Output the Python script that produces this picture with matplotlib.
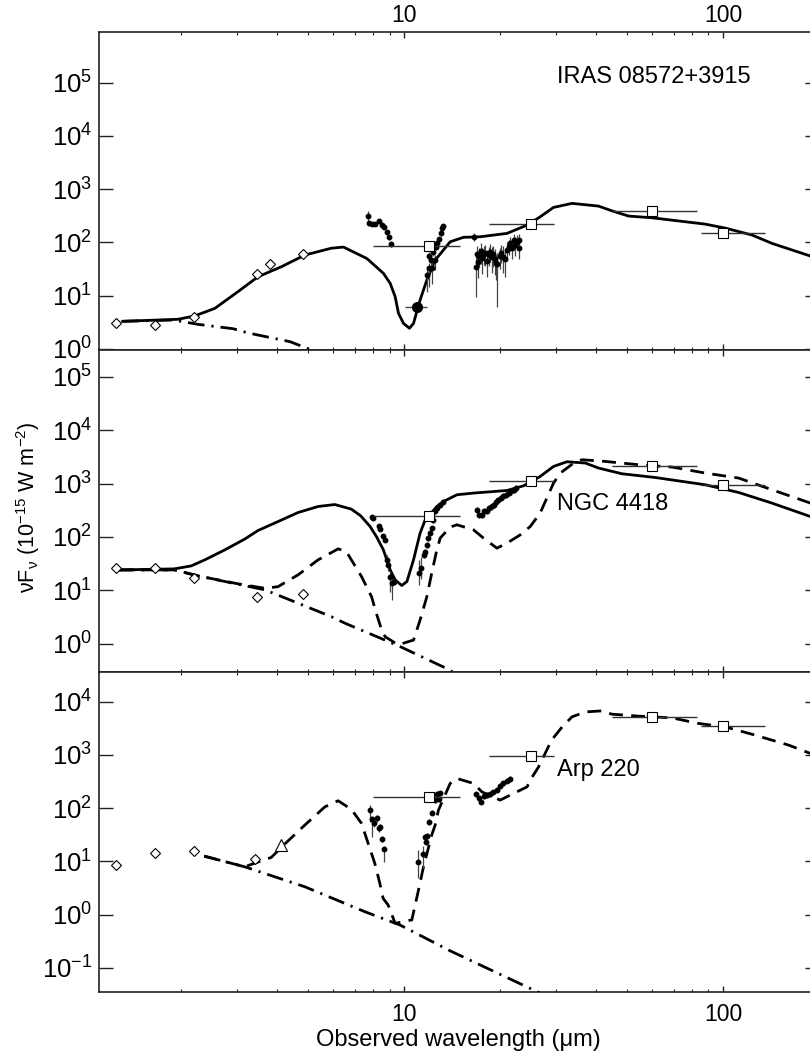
import matplotlib
matplotlib.use("Agg")
import matplotlib.pyplot as plt
import numpy as np
from matplotlib.ticker import LogLocator, NullFormatter

plt.rcParams["font.family"] = ["Liberation Sans", "DejaVu Sans"]
plt.rcParams["mathtext.fontset"] = "custom"
plt.rcParams["mathtext.rm"] = "Liberation Sans"
plt.rcParams["mathtext.it"] = "Liberation Sans:italic"
plt.rcParams["mathtext.default"] = "regular"

# ---------------- photometry ----------------
iras_wave = [12, 25, 60, 100]
iras_lo = [8.0, 18.5, 45, 85]
iras_hi = [15.0, 29.5, 83, 135]
iras_top = [85.6, 221, 383, 152]
iras_mid = [249, 1095, 2094, 949]
iras_bot = [164, 949, 5190, 3467]

nir_wave_top = [1.25, 1.65, 2.2, 3.45, 3.8, 4.8]
nir_flux_top = [3.1, 2.86, 4.0, 25.9, 39, 62]
nir_wave_mid = [1.25, 1.65, 2.2, 3.45, 4.8]
nir_flux_mid = [26.7, 26, 16.9, 7.6, 8.6]
nir_wave_bot = [1.25, 1.65, 2.2, 3.4]
nir_flux_bot = [8.56, 14.2, 15.7, 10.9]
tri_wave_bot = [4.1]
tri_flux_bot = [20.3]

# ---------------- spectra (errors in dex) ----------------
spec_top_wave = [7.69, 7.78, 7.92, 8.11, 8.36, 8.51, 8.65, 8.82, 8.99, 9.10,
                 11.83, 11.95, 12.0, 12.13, 12.2, 12.3, 12.51, 12.6, 12.72, 12.9, 13.04, 13.16, 13.26,
                 16.6,
                 16.79, 16.9, 17.03, 17.23, 17.41, 17.57, 17.74, 17.96, 18.18, 18.39,
                 18.61, 18.84, 19.06, 19.3, 19.44, 19.62, 19.91, 20.16, 20.49, 20.75,
                 21.0, 21.25, 21.51, 21.78, 22.03, 22.3, 22.57, 22.84, 23.0]
spec_top_flux = [313, 228, 221, 219, 255, 212, 197, 159, 125, 93,
                 24.5, 55.6, 32.7, 46.7, 32.7, 66.9, 46.7, 83, 96, 114, 148, 184, 203,
                 128,
                 34.1, 60.6, 43.4, 55.6, 69.9, 50.3, 60.6, 64.1, 45.4, 58,
                 66.9, 52.5, 60.6, 48.2, 40.5, 39.3, 55.6, 64.1, 53.9, 48.2,
                 72, 83, 96, 77.5, 111, 89.4, 103, 77.5, 111]
spec_top_elo = [0.1, 0.05, 0.04, 0.04, 0.04, 0.04, 0.04, 0.04, 0.05, 0.05,
                0.31, 0.1, 0.35, 0.1, 0.3, 0.08, 0.19, 0.06, 0.05, 0.05, 0.04, 0.04, 0.04,
                0.08,
                0.55, 0.25, 0.3, 0.2, 0.25, 0.3, 0.2, 0.25, 0.3, 0.2,
                0.2, 0.3, 0.25, 0.3, 0.31, 0.8, 0.25, 0.2, 0.3, 0.33,
                0.2, 0.15, 0.15, 0.2, 0.15, 0.2, 0.15, 0.2, 0.15]
spec_top_ehi = [0.1, 0.05, 0.04, 0.04, 0.04, 0.04, 0.04, 0.04, 0.05, 0.05,
                0.16, 0.08, 0.1, 0.08, 0.1, 0.06, 0.1, 0.05, 0.04, 0.04, 0.04, 0.04, 0.04,
                0.08,
                0.29, 0.15, 0.2, 0.15, 0.15, 0.2, 0.15, 0.15, 0.2, 0.15,
                0.15, 0.2, 0.15, 0.2, 0.15, 0.2, 0.15, 0.15, 0.2, 0.15,
                0.15, 0.12, 0.12, 0.15, 0.12, 0.15, 0.12, 0.15, 0.12]

spec_mid_wave = [7.9, 8.01, 8.31, 8.41, 8.61, 8.72, 8.83, 8.93, 9.04, 9.15, 9.3,
                 11.17, 11.28, 11.5, 11.64, 11.78, 11.92, 12.07, 12.2, 12.36, 12.51, 12.66, 12.97, 13.28,
                 16.98, 17.23, 17.53, 17.82, 18.18, 18.52, 18.84, 19.16, 19.44, 19.76,
                 20.11, 20.49, 20.89, 21.25, 21.62, 22.03, 22.45]
spec_mid_flux = [235, 225, 157, 140, 102, 88, 37.2, 30, 18.1, 13.6, 14.6,
                 20.9, 26, 46.1, 53.2, 71, 95, 118, 146, 209, 300, 347, 400, 461,
                 322, 260, 260, 300, 313, 347, 372, 400, 461, 497,
                 534, 573, 617, 664, 711, 765, 824]
spec_mid_elo = [0.04, 0.04, 0.04, 0.04, 0.04, 0.04, 0.1, 0.12, 0.28, 0.31, 0.05,
                0.22, 0.2, 0.06, 0.05, 0.05, 0.05, 0.05, 0.05, 0.05, 0.05, 0.05, 0.05, 0.05,
                0.06, 0.06, 0.06, 0.06, 0.06, 0.06, 0.06, 0.06, 0.06, 0.06,
                0.06, 0.06, 0.06, 0.06, 0.06, 0.06, 0.06]
spec_mid_ehi = [0.04, 0.04, 0.04, 0.04, 0.04, 0.04, 0.1, 0.12, 0.1, 0.1, 0.05,
                0.25, 0.2, 0.06, 0.05, 0.05, 0.05, 0.05, 0.05, 0.05, 0.05, 0.05, 0.05, 0.05,
                0.06, 0.06, 0.06, 0.06, 0.06, 0.06, 0.06, 0.06, 0.06, 0.06,
                0.06, 0.06, 0.06, 0.06, 0.06, 0.06, 0.06]

spec_bot_wave = [7.82, 7.92, 8.05, 8.21, 8.33, 8.41, 8.55, 8.67,
                 11.09, 11.45, 11.64, 11.7, 11.78, 12.0, 12.24, 12.51, 12.72, 12.85, 12.97,
                 16.83, 17.13, 17.44, 17.74, 18.18, 18.61, 19.06, 19.54, 20.0, 20.49, 21.0, 21.5]
spec_bot_flux = [92, 61.6, 51.9, 64.4, 41.8, 44.8, 26.3, 16.9,
                 9.87, 13.6, 29, 23.4, 30, 55.6, 82, 142, 184, 146, 190,
                 182, 153, 132, 169, 176, 182, 198, 219, 260, 292, 327, 352]
spec_bot_elo = [0.22, 0.33, 0.06, 0.06, 0.06, 0.06, 0.06, 0.23,
                0.3, 0.25, 0.06, 0.06, 0.06, 0.06, 0.05, 0.05, 0.05, 0.05, 0.05,
                0.05, 0.05, 0.05, 0.05, 0.05, 0.05, 0.05, 0.05, 0.05, 0.05, 0.05, 0.05]
spec_bot_ehi = [0.09, 0.06, 0.06, 0.06, 0.06, 0.06, 0.06, 0.06,
                0.22, 0.15, 0.06, 0.06, 0.06, 0.06, 0.05, 0.05, 0.05, 0.05, 0.05,
                0.05, 0.05, 0.05, 0.05, 0.05, 0.05, 0.05, 0.05, 0.05, 0.05, 0.05, 0.05]

# silicate point with wavelength range (top panel)
sil_wave = [10.96]
sil_flux = [6.2]
sil_xlo = [10.07]
sil_xhi = [11.83]

# ---------------- models ----------------
solid_top_wave = [1.31, 1.95, 2.2, 2.55, 3.01, 3.48, 4.12, 4.88, 5.91, 6.45,
                  7.64, 8.61, 9.04, 9.37, 9.6, 9.95, 10.39, 10.7, 11.22, 11.78,
                  12.51, 13.94, 15.35, 17.32, 21.0, 24.3, 26.7, 29.4, 33.6, 40.7,
                  44.8, 50.6, 59.8, 88, 101.7, 123.3, 142.5, 188, 200]
solid_top_flux = [3.31, 3.61, 4.16, 5.8, 11.9, 22.7, 35, 58, 78, 82,
                  50, 26.3, 17.1, 9.6, 4.67, 3.03, 2.45, 3.03, 8.3, 19.7,
                  46.7, 103, 125, 128, 148, 212, 303, 455, 542, 482,
                  393, 313, 291, 221, 186, 138, 96, 55.6, 50]
dashdot_top_wave = [1.31, 1.89, 2.26, 2.91, 3.24, 4.39, 5.86]
dashdot_top_flux = [3.31, 3.5, 2.9, 2.4, 2.0, 1.37, 0.7]

solid_mid_wave = [1.27, 1.9, 2.15, 2.37, 2.74, 3.16, 3.48, 4.02, 4.65, 5.37,
                  6.06, 6.83, 7.3, 7.82, 8.2, 8.61, 9.04, 9.37, 9.83, 10.2,
                  10.7, 11.22, 11.64, 12.66, 13.28, 14.63, 16.5, 21.0, 23.7, 26.7,
                  29.4, 32.4, 37.0, 40.7, 48.2, 61.3, 88, 112, 142.5, 188, 200]
solid_mid_flux = [24.1, 25.2, 28.7, 37.2, 57.3, 91, 132, 194, 287, 372,
                  405, 332, 250, 157, 100, 57, 24.1, 15.7, 12.3, 14.6,
                  37.2, 118, 209, 372, 461, 617, 664, 742, 910, 1359,
                  2094, 2565, 2425, 1954, 1527, 1300, 949, 681, 430, 241, 215]
dashed_mid_wave = [1.27, 1.9, 2.26, 3.0, 3.66, 4.02, 4.65, 5.37, 6.21, 6.59,
                   6.83, 7.35, 7.9, 8.21, 8.5, 8.72, 9.57, 10.7, 11.22, 11.78,
                   12.2, 12.66, 12.97, 13.94, 14.63, 16.5, 17.74, 19.54, 21.0, 23.1,
                   24.86, 26.7, 29.4, 30.9, 34.0, 36.1, 42.7, 54.4, 69.2, 88,
                   112, 142.5, 188, 200]
dashed_mid_flux = [24.1, 24.1, 18.6, 13.3, 10.9, 11.7, 19.5, 37.2, 59.8, 53.2,
                   37.2, 18.1, 7.62, 3.45, 1.81, 1.35, 0.95, 1.17, 2.78, 7.62,
                   20.9, 57.3, 95, 153, 169, 136, 95, 61.6, 76.5, 109,
                   157, 280, 1021, 1574, 2425, 2800, 2600, 2254, 2040, 1574,
                   1268, 765, 431, 380]
dashdot_mid_wave = [1.27, 1.91, 2.26, 3.66, 5.91, 6.53, 9.57, 13.77, 17.3]
dashdot_mid_flux = [24.1, 24.1, 18.6, 10.2, 3.21, 2.41, 0.92, 0.33, 0.135]

dashed_bot_wave = [2.36, 3.16, 3.57, 3.83, 4.22, 4.88, 5.64, 6.21, 6.83, 7.35,
                   7.71, 8.09, 8.39, 8.59, 8.91, 9.37, 10.57, 11.09, 11.5, 12.2,
                   12.51, 12.81, 13.94, 14.63, 16.5, 17.53, 20.0, 21.0, 24.3, 24.86,
                   26.4, 29.0, 31.3, 33.6, 37.0, 41.7, 44.8, 54.4, 69.2, 83.8,
                   101.7, 126.3, 160.7, 188, 200]
dashed_bot_flux = [12.6, 7.95, 10.3, 11.9, 21.2, 48.2, 106, 138, 95, 51.9,
                   21.9, 9.2, 3.88, 2.03, 1.52, 0.69, 0.8, 2.9, 7.95, 31.3,
                   48.2, 92, 292, 362, 292, 203, 142, 164, 252, 337,
                   598, 1896, 3365, 5190, 6440, 6720, 5830, 5350, 4965, 3900,
                   3365, 2350, 1528, 1067, 950]
dashdot_bot_wave = [2.36, 3.16, 4.88, 7.53, 9.71, 13.94, 20.0, 26.1, 30.9]
dashdot_bot_flux = [12.6, 7.95, 3.35, 1.14, 0.64, 0.21, 0.076, 0.036, 0.022]

names = ["IRAS 08572+3915", "NGC 4418", "Arp 220"]

DASHED = (0, (5, 3))
DASHDOT = (0, (6, 2.5, 0.8, 2.5))
EC = "#444444"


def spectrum(ax, wave, flux, elo, ehi):
    f = np.array(flux)
    lo = f - f / 10 ** np.array(elo)
    hi = f * 10 ** np.array(ehi) - f
    ax.errorbar(wave, f, yerr=[lo, hi], fmt="o", ms=3.2, color="k",
                ecolor=EC, elinewidth=0.9, capsize=0, zorder=4)


def iras(ax, flux):
    w = np.array(iras_wave)
    xerr = [w - np.array(iras_lo), np.array(iras_hi) - w]
    ax.errorbar(w, flux, xerr=xerr, fmt="s", ms=7, mfc="white", mec="k",
                mew=0.8, ecolor="#333333", elinewidth=1.0, capsize=0, zorder=5)


def nir(ax, wave, flux):
    f = np.array(flux)
    ax.errorbar(wave, f, yerr=[f * 0.08, f * 0.08], fmt="D", ms=5.5, mfc="white",
                mec="k", mew=0.8, ecolor="k", elinewidth=0.6, capsize=0, zorder=5)


fig = plt.figure(figsize=(8.1, 10.57), dpi=100)
W, H = 810.0, 1057.0
left = 98.5 / W
width = (819.0 - 98.5) / W
ax_top = fig.add_axes([left, 1 - 350 / H, width, 318 / H])
ax_mid = fig.add_axes([left, 1 - 671.7 / H, width, 321.7 / H])
ax_bot = fig.add_axes([left, 1 - 991.7 / H, width, 320 / H])

# top panel
ax_top.plot(solid_top_wave, solid_top_flux, color="k", lw=2.0, zorder=3)
ax_top.plot(dashdot_top_wave, dashdot_top_flux, color="k", lw=2.0, linestyle=DASHDOT, zorder=3)
spectrum(ax_top, spec_top_wave, spec_top_flux, spec_top_elo, spec_top_ehi)
ax_top.errorbar(sil_wave, sil_flux,
                xerr=[[sil_wave[0] - sil_xlo[0]], [sil_xhi[0] - sil_wave[0]]],
                yerr=[[1.2], [1.5]], fmt="o", ms=7, color="k", ecolor=EC,
                elinewidth=1.0, capsize=0, zorder=5)
iras(ax_top, iras_top)
nir(ax_top, nir_wave_top, nir_flux_top)

# middle panel
ax_mid.plot(solid_mid_wave, solid_mid_flux, color="k", lw=2.0, zorder=3)
ax_mid.plot(dashed_mid_wave, dashed_mid_flux, color="k", lw=2.0, linestyle=DASHED, zorder=3)
ax_mid.plot(dashdot_mid_wave, dashdot_mid_flux, color="k", lw=2.0, linestyle=DASHDOT, zorder=3)
spectrum(ax_mid, spec_mid_wave, spec_mid_flux, spec_mid_elo, spec_mid_ehi)
iras(ax_mid, iras_mid)
nir(ax_mid, nir_wave_mid, nir_flux_mid)

# bottom panel
ax_bot.plot(dashed_bot_wave, dashed_bot_flux, color="k", lw=2.0, linestyle=DASHED, zorder=3)
ax_bot.plot(dashdot_bot_wave, dashdot_bot_flux, color="k", lw=2.0, linestyle=DASHDOT, zorder=3)
spectrum(ax_bot, spec_bot_wave, spec_bot_flux, spec_bot_elo, spec_bot_ehi)
iras(ax_bot, iras_bot)
nir(ax_bot, nir_wave_bot, nir_flux_bot)
ax_bot.plot(tri_wave_bot, tri_flux_bot, "^", ms=8, mfc="white", mec="k", mew=0.8, zorder=5)

ylims = [(10 ** -0.019, 10 ** 5.952), (10 ** -0.525, 10 ** 5.503), (10 ** -1.445, 10 ** 4.563)]
yexp = [range(0, 6), range(0, 6), range(-1, 5)]
label_y = [0.859, 0.521, 0.693]

for i, ax in enumerate([ax_top, ax_mid, ax_bot]):
    ax.set_xscale("log")
    ax.set_yscale("log")
    ax.set_xlim(1.1, 200)
    ax.set_ylim(*ylims[i])
    ax.set_yticks([10.0 ** k for k in yexp[i]])
    ax.set_yticklabels(["$10^{%d}$" % k for k in yexp[i]])
    ax.yaxis.set_minor_locator(LogLocator(subs=[]))
    ax.yaxis.set_minor_formatter(NullFormatter())
    ax.set_xticks([10, 100])
    ax.set_xticklabels(["10", "100"])
    ax.xaxis.set_minor_locator(LogLocator(subs=np.arange(2, 10)))
    ax.xaxis.set_minor_formatter(NullFormatter())
    ax.tick_params(axis="y", which="major", direction="in", length=10, width=1.0,
                   left=True, right=True, labelsize=18.5, pad=4.5, colors="#222222",
                   labelcolor="k")
    ax.tick_params(axis="y", which="minor", left=False, right=False)
    ax.tick_params(axis="x", which="major", direction="in", length=4.5, width=1.0,
                   top=True, bottom=True, labelsize=16.5, labelbottom=False,
                   labeltop=False, colors="#222222", labelcolor="k")
    ax.tick_params(axis="x", which="minor", direction="in", length=2.2, width=0.8,
                   top=True, bottom=True, colors="#222222")
    for s in ax.spines.values():
        s.set_linewidth(1.2)
        s.set_color("#222222")
    ax.text(0.636, label_y[i], names[i], transform=ax.transAxes, fontsize=17,
            ha="left", va="center")

ax_top.tick_params(axis="x", which="major", labeltop=True, pad=3.5)
ax_bot.tick_params(axis="x", which="major", labelbottom=True, pad=8)
ax_bot.set_xlabel("Observed wavelength (μm)", fontsize=17, labelpad=2)

fig.text(0.035, 0.52, "νF$_{ν}$ (10$^{-15}$ W m$^{-2}$)", rotation=90,
         ha="center", va="center", fontsize=15.5)

fig.savefig("out.png", dpi=100)
plt.close(fig)
